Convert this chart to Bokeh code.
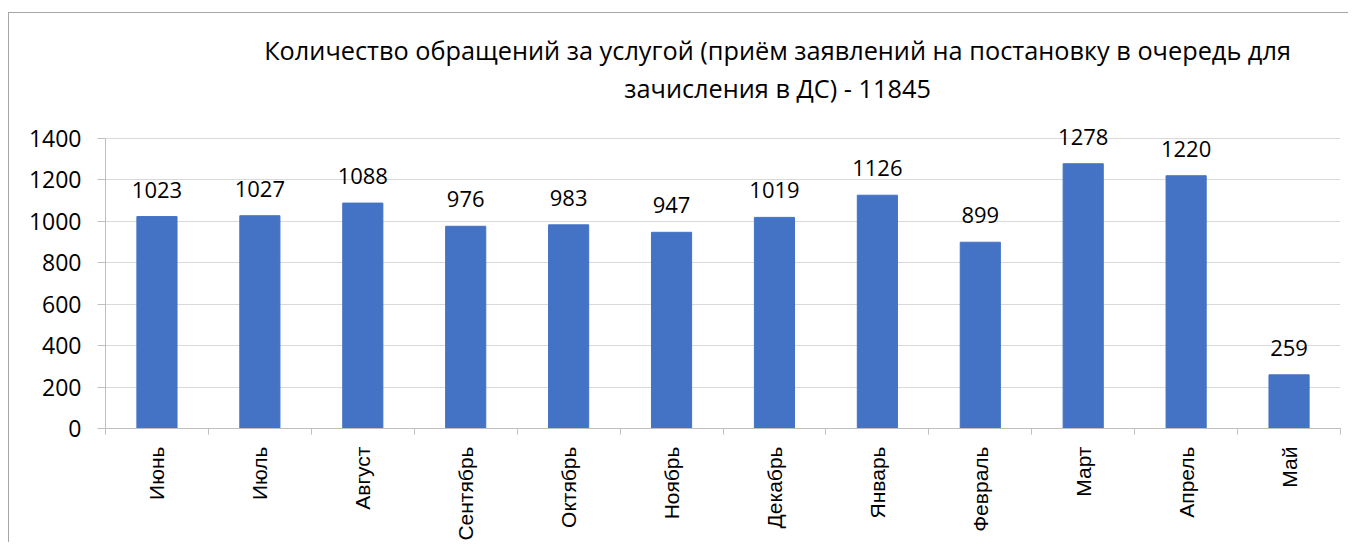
import math
from bokeh.plotting import figure
from bokeh.models import ColumnDataSource, LabelSet, Label, FixedTicker, Range1d
from bokeh.core.properties import value
from bokeh.embed import file_html
from bokeh.resources import INLINE

months = ["Июнь", "Июль", "Август", "Сентябрь", "Октябрь", "Ноябрь",
          "Декабрь", "Январь", "Февраль", "Март", "Апрель", "Май"]
counts = [1023, 1027, 1088, 976, 983, 947, 1019, 1126, 899, 1278, 1220, 259]
y_ticks = [0, 200, 400, 600, 800, 1000, 1200, 1400]
title_lines = ["Количество обращений за услугой (приём заявлений на постановку в очередь для",
               "зачисления в ДС) - 11845"]

n = len(months)
centers = [i + 0.5 for i in range(n)]
src = ColumnDataSource(dict(x=centers, top=counts, label=[str(v) for v in counts]))

# y range extends above the 1400 gridline so the title and top value labels fit
Y_END = 1950
p = figure(width=1340, height=530, output_backend="svg", toolbar_location=None,
           x_range=Range1d(0, n), y_range=Range1d(0, Y_END),
           min_border_left=96, min_border_right=9, min_border_top=11, min_border_bottom=111)
p.styles = {"border-left": "1px solid #a6a6a6", "border-top": "1px solid #a6a6a6",
            "margin-top": "12px", "margin-left": "8px"}
p.outline_line_color = None
p.background_fill_color = "white"
p.border_fill_color = "white"

p.vbar(x="x", top="top", width=0.39, source=src, fill_color="#4472C4",
       line_color="#4472C4")

labels = LabelSet(x="x", y="top", text="label", source=src, text_align="center",
                  text_baseline="alphabetic", y_offset=19, text_font=value("Open Sans"),
                  text_font_size="22px", text_color="#000000")
p.add_layout(labels)

# two-line chart title
TITLE_X = 6.53
for txt, ty in zip(title_lines, [1826, 1644]):
    p.add_layout(Label(x=TITLE_X, y=ty, text=txt, text_align="center",
                       text_baseline="middle", text_font="Open Sans",
                       text_font_size="25.3px", text_color="#000000"))

# grid
p.xgrid.grid_line_color = None
p.ygrid.ticker = FixedTicker(ticks=y_ticks)
p.ygrid.grid_line_color = "#d9d9d9"
p.ygrid.grid_line_width = 1

# y axis
p.yaxis.ticker = FixedTicker(ticks=y_ticks)
p.yaxis.bounds = (0, 1400)
p.yaxis.axis_line_color = "#bfbfbf"
p.yaxis.major_tick_line_color = "#bfbfbf"
p.yaxis.major_tick_out = 8
p.yaxis.major_tick_in = 0
p.yaxis.minor_tick_line_color = None
p.yaxis.major_label_text_font = "Open Sans"
p.yaxis.major_label_text_font_size = "23px"
p.yaxis.major_label_text_color = "#000000"
p.yaxis.major_label_standoff = 16

# x axis
p.xaxis.ticker = FixedTicker(ticks=centers, minor_ticks=list(range(n + 1)))
p.xaxis.major_label_overrides = {c: m for c, m in zip(centers, months)}
p.xaxis.axis_line_color = "#bfbfbf"
p.xaxis.major_tick_line_color = None
p.xaxis.major_tick_out = 0
p.xaxis.major_tick_in = 0
p.xaxis.minor_tick_line_color = "#bfbfbf"
p.xaxis.minor_tick_out = 6
p.xaxis.minor_tick_in = 0
p.xaxis.major_label_orientation = math.pi / 2
p.xaxis.major_label_text_font = "Liberation Sans"
p.xaxis.major_label_text_font_size = "21px"
p.xaxis.major_label_text_color = "#000000"
p.xaxis.major_label_standoff = 12

open("out.html", "w").write(file_html(p, INLINE))
